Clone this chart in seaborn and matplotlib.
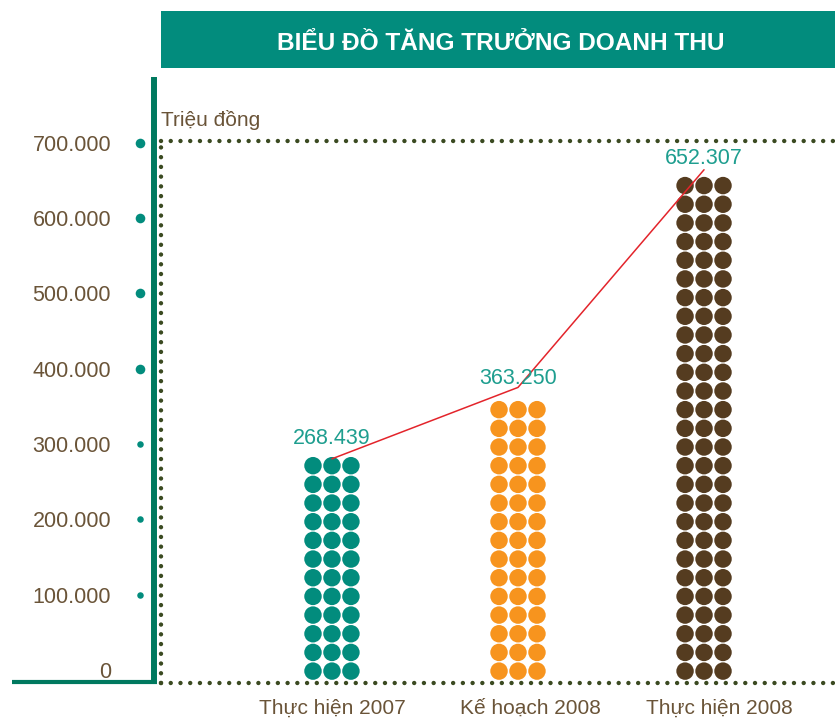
import numpy as np
import pandas as pd
import matplotlib
matplotlib.use("Agg")
import matplotlib.pyplot as plt
import matplotlib.transforms as mtransforms
from matplotlib.patches import Rectangle
import seaborn as sns

# ---------------- data ----------------
categories = ["Thực hiện 2007", "Kế hoạch 2008", "Thực hiện 2008"]
revenue = [268439, 363250, 652307]
dot_rows = [12, 15, 27]
y_ticks = [0, 100000, 200000, 300000, 400000, 500000, 600000, 700000]
y_tick_labels = ["0", "100.000", "200.000", "300.000", "400.000", "500.000", "600.000", "700.000"]
title = "BIỂU ĐỒ TĂNG TRƯỞNG DOANH THU"
unit_label = "Triệu đồng"

# ---------------- style ----------------
sns.set_style("white")
plt.rcParams["font.family"] = ["Liberation Sans", "DejaVu Sans"]

TEAL = "#028C7D"
TEAL_DARK = "#00795F"
ORANGE = "#F7941E"
BROWN = "#553C20"
LABEL_TEAL = "#1E9E8F"
TEXT_BROWN = "#6A5438"
DOT_LINE = "#3B4A21"
RED = "#E3242B"
bar_colors = [TEAL, ORANGE, BROWN]

W, H = 835, 718
fig = plt.figure(figsize=(W / 100, H / 100), dpi=100)
ax = fig.add_axes([161 / W, 35 / H, 674 / W, 542 / H])

row_step = 24800
row_base = -1500
col_step = 0.102

# dot grid built from the data
recs = []
for i, (cat, n) in enumerate(zip(categories, dot_rows)):
    for r in range(n):
        for c in (-1, 0, 1):
            recs.append({"cat": cat, "x": i + c * col_step, "y": row_base + r * row_step})
dots = pd.DataFrame(recs)

sns.scatterplot(data=dots, x="x", y="y", hue="cat", palette=dict(zip(categories, bar_colors)),
                s=158, linewidth=0, legend=False, ax=ax, zorder=2)

# trend line
line_df = pd.DataFrame({"x": np.arange(len(categories)), "y": np.array(revenue) + 12000})
sns.lineplot(data=line_df, x="x", y="y", color=RED, linewidth=1.1, ax=ax,
             estimator=None, sort=False, zorder=3)

# value labels
for i, (v, n) in enumerate(zip(revenue, dot_rows)):
    top = max(v, row_base + (n - 1) * row_step + row_step / 2)
    ax.text(i, top + 23500, f"{v:,}".replace(",", "."), ha="center", va="center",
            fontsize=15.5, color=LABEL_TEAL, zorder=4)

ax.set_xlim(-0.919, 2.704)
ax.set_ylim(-17300, 702500)
for s in ax.spines.values():
    s.set_visible(False)
ax.set_xlabel("")
ax.set_ylabel("")

ax.set_yticks(y_ticks)
ax.set_yticklabels(y_tick_labels)
ax.tick_params(axis="y", length=0, pad=36, labelsize=15.5, labelcolor=TEXT_BROWN)
ax.set_xticks(range(len(categories)))
ax.set_xticklabels(categories)
ax.tick_params(axis="x", length=0, pad=11, labelsize=15, labelcolor=TEXT_BROWN)
ax.grid(False)
label_shift_px = [0, 12, 15]
for lab, dx in zip(ax.get_xticklabels(), label_shift_px):
    lab.set_transform(lab.get_transform() + mtransforms.ScaledTranslation(dx / 100, 0, fig.dpi_scale_trans))

# dotted frame
dot_style = dict(color=DOT_LINE, linewidth=3.2, linestyle=(0, (0.001, 2.19)),
                 dash_capstyle="round", clip_on=False, zorder=5)
ax.axhline(ax.get_ylim()[1], **dot_style)
ax.axhline(ax.get_ylim()[0], **dot_style)
ax.axvline(ax.get_xlim()[0], **dot_style)

# teal tick dots left of axis
trans = mtransforms.blended_transform_factory(ax.transAxes, ax.transData)
big = [t for t in y_ticks if t >= 400000]
small = [t for t in y_ticks if 0 < t < 400000]
ax.scatter(np.full(len(big), -21 / 674), big, s=48, color=TEAL, transform=trans, clip_on=False, linewidth=0)
ax.scatter(np.full(len(small), -21 / 674), small, s=22, color=TEAL, transform=trans, clip_on=False, linewidth=0)

# overlay for decorations (pixel coordinates)
ov = fig.add_axes([0, 0, 1, 1])
ov.set_xlim(0, W)
ov.set_ylim(H, 0)
ov.axis("off")
ov.add_patch(Rectangle((161, 11), W - 161, 57, color=TEAL, linewidth=0))
ov.text(501, 43, title, ha="center", va="center", color="white", fontsize=17.6, fontweight="bold")
ov.plot([154, 154], [77, 684], color=TEAL_DARK, linewidth=4.3, solid_capstyle="butt")
ov.plot([12, 157], [682, 682], color=TEAL_DARK, linewidth=3.0, solid_capstyle="butt")
ov.text(161, 120, unit_label, ha="left", va="center", fontsize=15, color=TEXT_BROWN)

fig.savefig("out.png", dpi=100)
